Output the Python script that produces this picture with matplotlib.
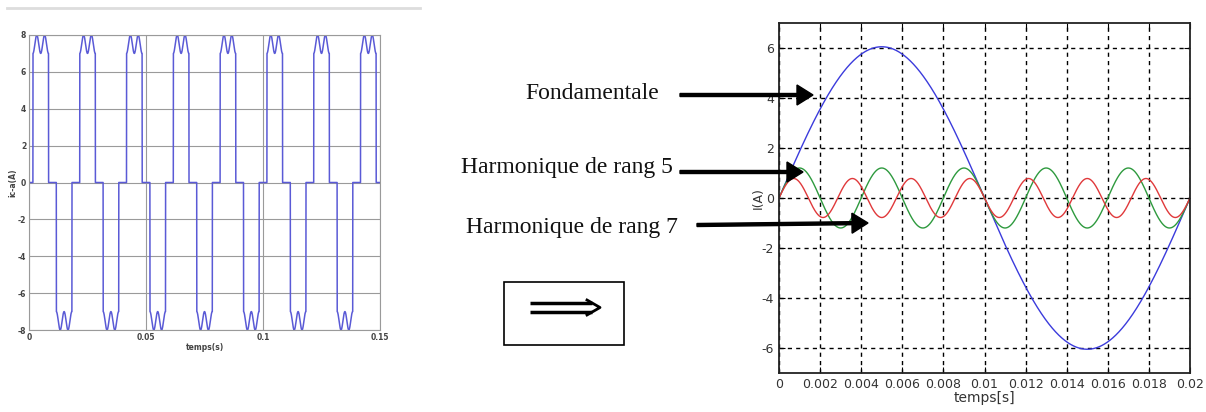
import numpy as np
import matplotlib
matplotlib.use("Agg")
import matplotlib.pyplot as plt
from matplotlib.patches import Rectangle

plt.rcParams["axes.unicode_minus"] = False

# Courant de ligne (gauche) : créneau 120° + ondulation
F_RESEAU = 50.0
T_FIN_GAUCHE = 0.15
I_CRETE = 8.0
I_CREUX = 7.0
ANGLES_POS = [30, 150]     # conduction positive (degrés)
ANGLES_NEG = [210, 330]    # conduction négative (degrés)
RIPPLE_ORDRE = 6

# Décomposition (droite) : fondamentale, rang 5, rang 7
RANGS = [1, 5, 7]
AMPLITUDES = [6.05, 1.2, 0.78]
COULEURS = ["#3b3bdc", "#2e9a3e", "#e0393b"]
T_FIN_DROITE = 0.02

XTICKS_GAUCHE = [0, 0.05, 0.1, 0.15]
XTICKLABELS_GAUCHE = ["0", "0.05", "0.1", "0.15"]
YTICKS_GAUCHE = [-8, -6, -4, -2, 0, 2, 4, 6, 8]
XTICKS_DROITE = [0, 0.002, 0.004, 0.006, 0.008, 0.01, 0.012, 0.014, 0.016, 0.018, 0.02]
YTICKS_DROITE = [-6, -4, -2, 0, 2, 4, 6]

LABELS = ["Fondamentale", "Harmonique de rang 5", "Harmonique de rang 7"]

W, H = 1206, 412
fig = plt.figure(figsize=(W / 100, H / 100), dpi=100)


def rect(x0, y0, x1, y1):
    # pixels -> fractions de figure
    return [x0 / W, 1 - y1 / H, (x1 - x0) / W, (y1 - y0) / H]


# ---------- graphe de gauche ----------
ax1 = fig.add_axes(rect(29, 35, 380, 330))
t = np.linspace(0, T_FIN_GAUCHE, 30001)
theta = (np.degrees(2 * np.pi * F_RESEAU * t)) % 360
moy = (I_CRETE + I_CREUX) / 2
amp = (I_CRETE - I_CREUX) / 2
ond = moy - amp * np.cos(np.radians(RIPPLE_ORDRE * (theta - ANGLES_POS[0])))
i_ligne = np.zeros_like(t)
pos = (theta >= ANGLES_POS[0]) & (theta <= ANGLES_POS[1])
neg = (theta >= ANGLES_NEG[0]) & (theta <= ANGLES_NEG[1])
i_ligne[pos] = ond[pos]
i_ligne[neg] = -ond[neg]
ax1.plot(t, i_ligne, color="#5a5ad6", lw=1.1)
ax1.set_xlim(0, T_FIN_GAUCHE)
ax1.set_ylim(-8, 8)
ax1.set_xticks(XTICKS_GAUCHE)
ax1.set_xticklabels(XTICKLABELS_GAUCHE)
ax1.set_yticks(YTICKS_GAUCHE)
ax1.grid(True, color="#9a9a9a", lw=0.8)
ax1.tick_params(labelsize=5.5, length=0, pad=2, colors="#444444")
for lab in ax1.get_xticklabels() + ax1.get_yticklabels():
    lab.set_fontweight("bold")
for s in ax1.spines.values():
    s.set_color("#9a9a9a")
    s.set_linewidth(0.8)
ax1.set_xlabel("temps(s)", fontsize=5.5, fontweight="bold", color="#444444", labelpad=1)
ax1.set_ylabel("ic-a(A)", fontsize=5.5, fontweight="bold", color="#444444", labelpad=0)

# ---------- graphe de droite ----------
ax2 = fig.add_axes(rect(779, 23, 1190, 373))
t2 = np.linspace(0, T_FIN_DROITE, 2001)
for rang, a, c in zip(RANGS, AMPLITUDES, COULEURS):
    ax2.plot(t2, a * np.sin(2 * np.pi * F_RESEAU * rang * t2), color=c, lw=1.0)
ax2.set_xlim(0, T_FIN_DROITE)
ax2.set_ylim(-7, 7)
ax2.set_xticks(XTICKS_DROITE)
ax2.set_xticklabels([f"{v:g}" for v in XTICKS_DROITE])
ax2.set_yticks(YTICKS_DROITE)
ax2.grid(True, color="black", lw=1.0, linestyle=(0, (3, 3)))
ax2.tick_params(labelsize=9, direction="in", length=4, colors="black",
                labelcolor="#333333", top=True, right=True)
for s in ax2.spines.values():
    s.set_color("#222222")
    s.set_linewidth(1.3)
ax2.set_xlabel("temps[s]", fontsize=10, color="#333333", labelpad=0)
ax2.set_ylabel("I(A)", fontsize=9, color="#333333", labelpad=-2)

# ---------- annotations (coordonnées pixels) ----------
ov = fig.add_axes([0, 0, 1, 1], zorder=10)
ov.set_xlim(0, W)
ov.set_ylim(H, 0)
ov.axis("off")
ov.patch.set_alpha(0)

ov.plot([7, 420], [8, 8], color="#dddddd", lw=2)

textes_pos = [(592, 93), (567, 167), (572, 227)]
for lab, (x, y) in zip(LABELS, textes_pos):
    ov.text(x, y, lab, ha="center", va="center", fontsize=17,
            family="Liberation Serif", color="#111111")

fleches = [((680, 95), (813, 95)), ((680, 172), (803, 172)), ((697, 225), (868, 223))]
for (x0, y0), (x1, y1) in fleches:
    ov.arrow(x0, y0, x1 - x0, y1 - y0, width=3, head_width=20, head_length=16,
             length_includes_head=True, color="black")

ov.add_patch(Rectangle((504, 282), 120, 63, fill=False, ec="black", lw=1.2))
ov.plot([530, 592], [303, 303], color="black", lw=2.5, solid_capstyle="butt")
ov.plot([530, 592], [312, 312], color="black", lw=2.5, solid_capstyle="butt")
ov.plot([587, 600, 587], [300, 307.5, 315], color="black", lw=2)

fig.savefig("out.png", dpi=100)
